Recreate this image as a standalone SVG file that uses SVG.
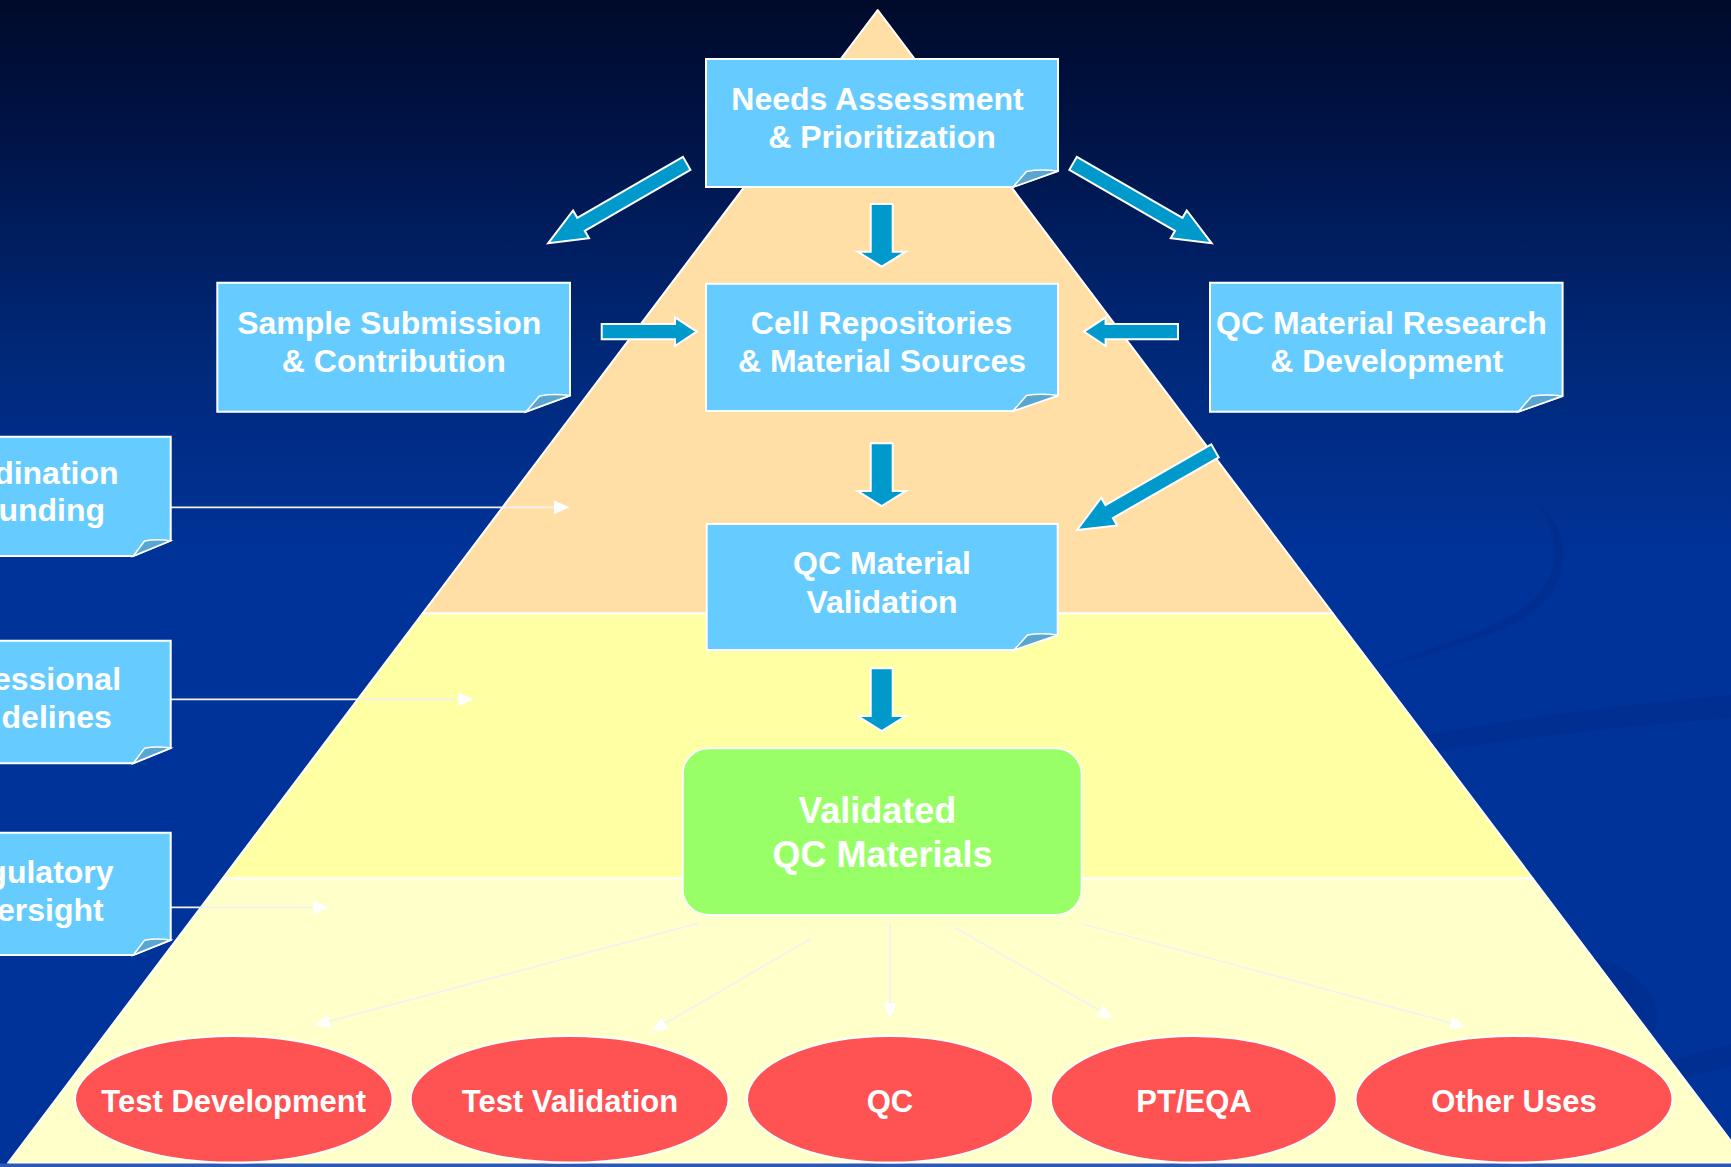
<svg xmlns="http://www.w3.org/2000/svg" width="1731" height="1167" viewBox="0 0 1731 1167">
  <defs>
    <linearGradient id="bg" x1="0" y1="0" x2="0" y2="1">
      <stop offset="0" stop-color="#000a2a"/>
      <stop offset="0.12" stop-color="#001448"/>
      <stop offset="0.3" stop-color="#002878"/>
      <stop offset="0.48" stop-color="#003399"/>
      <stop offset="1" stop-color="#003399"/>
    </linearGradient>
    <marker id="wh" markerWidth="15" markerHeight="14" refX="15" refY="7" orient="auto" markerUnits="userSpaceOnUse">
      <path d="M0,0 L15,7 L0,14 Z" fill="#ffffff"/>
    </marker>
    <style>
      .box { fill: #66ccff; stroke: #ffffff; stroke-width: 2; }
      .fold { fill: #5aa6d2; stroke: #ffffff; stroke-width: 1.5; }
      .txt { font-family: "Liberation Sans", Arial, sans-serif; font-weight: bold; fill: #ffffff; text-anchor: middle; }
      .t32 { font-size: 32px; }
      .t31 { font-size: 31px; }
      .t36 { font-size: 36px; }
      .barrow { fill: #0099cc; stroke: #ffffff; stroke-width: 2; stroke-linejoin: miter; }
      .thin { stroke: #f2f2f2; stroke-width: 1.8; fill: none; }
      .oval { fill: #ff5252; stroke: #ffffff; stroke-width: 2; }
    </style>
  </defs>

  <!-- background -->
  <rect x="0" y="0" width="1731" height="1167" fill="url(#bg)"/>
  <g id="decor" fill="#002c8a" opacity="0.5">
    <path d="M1538,505 C1575,530 1580,600 1500,630 C1450,650 1410,660 1380,668 C1420,650 1470,640 1520,610 C1565,580 1560,535 1538,505 Z"/>
    <path d="M1390,742 C1500,720 1620,705 1731,695 L1731,718 C1620,726 1500,740 1405,756 Z"/>
    <path d="M1580,955 C1640,965 1665,1000 1655,1030 C1640,1050 1610,1060 1590,1062 C1620,1040 1640,1010 1580,955 Z"/>
    <path d="M1650,1070 C1680,1058 1705,1050 1731,1044 L1731,1066 C1705,1072 1680,1078 1660,1084 Z"/>
  </g>

  <!-- pyramid -->
  <g id="pyramid" stroke="#ffffff" stroke-width="2" stroke-linejoin="round">
    <polygon points="877.7,10 1332.9,613.5 422.5,613.5" fill="#ffdfa6"/>
    <polygon points="422.5,613.5 1332.9,613.5 1532.8,878.5 222.6,878.5" fill="#ffffa3"/>
    <polygon points="222.6,878.5 1532.8,878.5 1747.4,1163 8,1163" fill="#ffffca"/>
  </g>
  <rect x="0" y="1163.5" width="1731" height="3.5" fill="#2a5ab4"/>

  <!-- connectors -->
  <g id="connectors">
    <!-- block arrows -->
    <polygon class="barrow" points="0,-7.5 122,-7.5 122,-16 160,0 122,16 122,7.5 0,7.5" transform="translate(686.7,163.3) rotate(150)"/>
    <polygon class="barrow" points="0,-7.5 122,-7.5 122,-16 160,0 122,16 122,7.5 0,7.5" transform="translate(1073.1,163.3) rotate(30)"/>
    <polygon class="barrow" points="0,-7.5 122,-7.5 122,-16 159,0 122,16 122,7.5 0,7.5" transform="translate(1215,450.8) rotate(150.15)"/>
    <polygon class="barrow" points="870.7,204 892.7,204 892.7,251.7 905.7,251.7 881.7,266.7 857.7,251.7 870.7,251.7"/>
    <polygon class="barrow" points="870.7,443.3 892.7,443.3 892.7,491 905.7,491 881.7,506 857.7,491 870.7,491"/>
    <polygon class="barrow" points="870.7,668.3 892.7,668.3 892.7,716 905.7,716 881.7,731 857.7,716 870.7,716"/>
    <polygon class="barrow" points="601.7,324 675,324 675,317.3 696.7,331.6 675,346 675,339.3 601.7,339.3"/>
    <polygon class="barrow" points="1178,324 1105.6,324 1105.6,317.3 1083.9,331.6 1105.6,346 1105.6,339.3 1178,339.3"/>
    <!-- thin white arrows from left boxes -->
    <line class="thin" x1="171" y1="507.3" x2="569" y2="507.3" marker-end="url(#wh)"/>
    <line class="thin" x1="171" y1="699.3" x2="473.4" y2="699.3" marker-end="url(#wh)"/>
    <line class="thin" x1="171" y1="907.4" x2="328.4" y2="907.4" marker-end="url(#wh)"/>
    <!-- thin white arrows to uses -->
    <line class="thin" x1="698" y1="923.3" x2="315" y2="1025" marker-end="url(#wh)"/>
    <line class="thin" x1="809.7" y1="939.3" x2="652" y2="1031" marker-end="url(#wh)"/>
    <line class="thin" x1="890" y1="923.3" x2="890" y2="1018.3" marker-end="url(#wh)"/>
    <line class="thin" x1="954.4" y1="927.3" x2="1113" y2="1018.3" marker-end="url(#wh)"/>
    <line class="thin" x1="1082.6" y1="924" x2="1465" y2="1026.7" marker-end="url(#wh)"/>
  </g>

  <!-- top nodes -->
  <g id="needs">
    <path class="box" d="M706,59 H1058 V171 L1013,187 H706 Z"/>
    <path class="fold" d="M1013,187 L1026.5,171.5 Q1040,169 1058,171 Z"/>
    <text class="txt t32" x="877.5" y="110">Needs Assessment</text>
    <text class="txt t32" x="882" y="148">&amp; Prioritization</text>
  </g>
  <g id="sample">
    <path class="box" d="M217.3,282.7 H570 V395.5 L526,411.7 H217.3 Z"/>
    <path class="fold" d="M526,411.7 L539.5,396 Q553,393.5 570,395.5 Z"/>
    <text class="txt t32" x="389.2" y="334">Sample Submission</text>
    <text class="txt t32" x="393.8" y="371.7">&amp; Contribution</text>
  </g>
  <g id="cell">
    <path class="box" d="M706,283.7 H1058 V395.5 L1013,411 H706 Z"/>
    <path class="fold" d="M1013,411 L1026.5,395.5 Q1040,393 1058,395.5 Z"/>
    <text class="txt t32" x="881.5" y="334">Cell Repositories</text>
    <text class="txt t32" x="882" y="371.7">&amp; Material Sources</text>
  </g>
  <g id="research">
    <path class="box" d="M1210,282.7 H1562.6 V396 L1518.3,411.7 H1210 Z"/>
    <path class="fold" d="M1518.3,411.7 L1531.8,396.2 Q1545,393.8 1562.6,396 Z"/>
    <text class="txt t32" x="1381.5" y="334">QC Material Research</text>
    <text class="txt t32" x="1386.7" y="371.7">&amp; Development</text>
  </g>
  <g id="validation">
    <path class="box" d="M706.7,524 H1057.7 V635 L1014,650 H706.7 Z"/>
    <path class="fold" d="M1014,650 L1027.5,635 Q1041,632.5 1057.7,635 Z"/>
    <text class="txt t32" x="882" y="574.3">QC Material</text>
    <text class="txt t32" x="882" y="612.7">Validation</text>
  </g>
  <g id="validated">
    <rect x="682.7" y="748.3" width="399" height="166.7" rx="26" ry="26" fill="#99ff66" stroke="#ffffff" stroke-width="2"/>
    <text class="txt t36" x="877.2" y="822.7">Validated</text>
    <text class="txt t36" x="882.5" y="867.3">QC Materials</text>
  </g>

  <!-- left nodes -->
  <g id="coordination">
    <path class="box" d="M-110,436.7 H170.7 V540.7 L133.3,556 H-110 Z"/>
    <path class="fold" d="M133.3,556 L144.5,541 Q156,538.5 170.7,540.7 Z"/>
    <text class="txt t32" x="19" y="484">Coordination</text>
    <text class="txt t32" x="26" y="520.7">&amp; Funding</text>
  </g>
  <g id="guidelines">
    <path class="box" d="M-110,640.7 H170.7 V748 L133.3,763.3 H-110 Z"/>
    <path class="fold" d="M133.3,763.3 L144.5,748.3 Q156,745.8 170.7,748 Z"/>
    <text class="txt t32" x="25" y="690">Professional</text>
    <text class="txt t32" x="30" y="727.7">Guidelines</text>
  </g>
  <g id="oversight">
    <path class="box" d="M-110,832.7 H170.7 V940 L133.3,955 H-110 Z"/>
    <path class="fold" d="M133.3,955 L144.5,940.3 Q156,937.8 170.7,940 Z"/>
    <text class="txt t32" x="30" y="883.3">Regulatory</text>
    <text class="txt t32" x="29" y="920.7">Oversight</text>
  </g>

  <!-- uses -->
  <g id="use-test-development">
    <ellipse class="oval" cx="233.8" cy="1099.3" rx="158.8" ry="63.3"/>
    <text class="txt t31" x="233.7" y="1111.7">Test Development</text>
  </g>
  <g id="use-test-validation">
    <ellipse class="oval" cx="569.6" cy="1099.3" rx="159" ry="63.3"/>
    <text class="txt t31" x="570" y="1111.7">Test Validation</text>
  </g>
  <g id="use-qc">
    <ellipse class="oval" cx="890" cy="1099.3" rx="143" ry="63.3"/>
    <text class="txt t31" x="890" y="1111.7">QC</text>
  </g>
  <g id="use-pt-eqa">
    <ellipse class="oval" cx="1193.8" cy="1099.3" rx="143" ry="63.3"/>
    <text class="txt t31" x="1194" y="1111.7">PT/EQA</text>
  </g>
  <g id="use-other">
    <ellipse class="oval" cx="1514" cy="1099.3" rx="158.5" ry="63.3"/>
    <text class="txt t31" x="1514" y="1111.7">Other Uses</text>
  </g>
</svg>
